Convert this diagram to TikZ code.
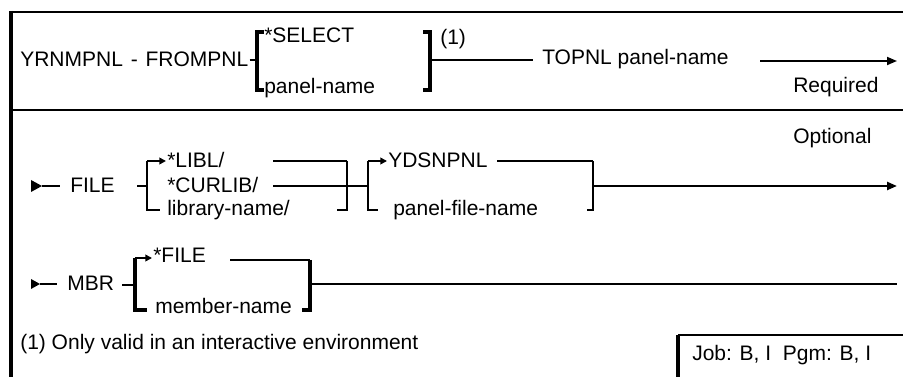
\documentclass[tikz,border=0pt]{standalone}
\usepackage{fontspec}
\setmainfont{Liberation Sans}
\usetikzlibrary{arrows.meta}
\begin{document}
\begin{tikzpicture}[x=0.75pt,y=-0.75pt,
  txt/.style={inner sep=0pt, anchor=base west, font=\fontsize{15.75}{18}\selectfont},
  ln/.style={line width=1.3pt},
  mainln/.style={line width=1.7pt},
  brk/.style={line width=3pt},
  brkb/.style={line width=2pt},
  frame/.style={line width=1.5pt},
  border/.style={line width=3pt},
  tip/.style={-{Triangle[length=7.5pt,width=6pt]}},
  stip/.style={-{Triangle[length=5pt,width=5pt]}},
  starttri/.style={fill=black}
]
\useasboundingbox (0,0) rectangle (903,377);

% frame
\coordinate (ftl) at (11,11);
\coordinate (fbl) at (11,377);
\coordinate (h1l) at (11,12);
\coordinate (h1r) at (903,12);
\coordinate (h2l) at (11,110);
\coordinate (h2r) at (903,110);
\draw[border] (ftl) -- (fbl);
\draw[frame] (h1l) -- (h1r);
\draw[frame] (h2l) -- (h2r);

% ---------------- row 1
\node[txt] (cmd) at (20,67) {YRNMPNL\hspace{1.5pt} - \hspace{1.5pt}FROMPNL};
\node[txt] (sel) at (264,43) {*SELECT};
\node[txt] (pn) at (264,94) {panel-name};
\node[txt] (fn1) at (440,45) {(1)};
\node[txt] (topnl) at (542,65) {TOPNL panel-name};
\node[txt] (req) at (793,93) {Required};

\coordinate (b1tl) at (264,32);
\coordinate (b1t) at (257,32);
\coordinate (b1m) at (257,60);
\coordinate (b1b) at (257,90);
\coordinate (b1bl) at (264,90);
\coordinate (b2tr) at (423,32);
\coordinate (b2t) at (430,32);
\coordinate (b2m) at (430,60);
\coordinate (b2b) at (430,90);
\coordinate (b2br) at (423,90);
\coordinate (r1a) at (533,60);
\coordinate (r1b) at (760,61);
\coordinate (r1e) at (897,61);

\draw[ln] ([xshift=0.75pt]cmd.east |- b1m) -- (b1m);
\draw[brk] (b1tl) -- (b1t) -- (b1b) -- (b1bl);
\draw[brk] (b2tr) -- (b2t) -- (b2b) -- (b2br);
\draw[ln] (b2m) -- (r1a);
\draw[ln,tip] (r1b) -- (r1e);

% ---------------- row 2
\node[txt] (opt) at (793,144) {Optional};
\fill[starttri] (31,180) -- (42,186) -- (31,192) -- cycle;
\coordinate (s2a) at (42,186);
\coordinate (s2b) at (60,186);
\draw[mainln] (s2a) -- (s2b);
\node[txt] (file) at (70,193) {FILE};

\coordinate (c1in) at (137,186);
\coordinate (c1t) at (147,161);
\coordinate (c1m) at (147,186);
\coordinate (c1b) at (147,210);
\coordinate (c1bh) at (160,210);
\coordinate (c1th) at (166,161);
\draw[mainln] (c1in) -- (c1m);
\draw[brkb] (c1t) -- (c1b) -- (c1bh);
\draw[brkb,stip] (c1t) -- (c1th);

\node[txt] (libl) at (167,168) {*LIBL/};
\node[txt] (curlib) at (167,193) {*CURLIB/};
\node[txt] (libn) at (167,216) {library-name/};

\coordinate (l1a) at (273,161);
\coordinate (c2t) at (347,161);
\coordinate (c2b) at (347,210);
\coordinate (c2bh) at (337,210);
\coordinate (l2a) at (273,186);
\coordinate (c3m) at (368,186);
\draw[ln] (l1a) -- (c2t);
\draw[brkb] (c2t) -- (c2b) -- (c2bh);
\draw[mainln] (l2a) -- (c3m);

\coordinate (c3t) at (368,161);
\coordinate (c3b) at (368,210);
\coordinate (c3bh) at (378,210);
\coordinate (c3th) at (387,161);
\draw[brkb] (c3t) -- (c3b) -- (c3bh);
\draw[brkb,stip] (c3t) -- (c3th);

\node[txt] (yds) at (388,168) {YDSNPNL};
\node[txt] (pfn) at (393,216) {panel-file-name};

\coordinate (l3a) at (497,161);
\coordinate (c4t) at (593,161);
\coordinate (c4m) at (593,186);
\coordinate (c4b) at (593,210);
\coordinate (c4bh) at (587,210);
\coordinate (r2e) at (897,186);
\draw[ln] (l3a) -- (c4t);
\draw[brkb] (c4t) -- (c4b) -- (c4bh);
\draw[mainln,tip] (c4m) -- (r2e);

% ---------------- row 3
\fill[starttri] (31,279) -- (40,284) -- (31,289) -- cycle;
\coordinate (s3a) at (40,284);
\coordinate (s3b) at (57,284);
\draw[ln] (s3a) -- (s3b);
\node[txt] (mbr) at (67,291) {MBR};

\coordinate (d1in) at (122,285);
\coordinate (d1m) at (135,285);
\coordinate (d1t) at (135,258);
\coordinate (d1b) at (135,310);
\coordinate (d1bh) at (147,310);
\coordinate (d1th) at (152,258);
\draw[ln] (d1in) -- (d1m);
\draw[brk] (d1t) -- (d1b) -- (d1bh);
\draw[ln,stip] (d1t) -- (d1th);

\node[txt] (starfile) at (153,263) {*FILE};
\node[txt] (mem) at (155,314) {member-name};

\coordinate (m1a) at (230,260);
\coordinate (d2t) at (310,260);
\coordinate (d2m) at (310,284);
\coordinate (d2b) at (310,310);
\coordinate (d2bh) at (302,310);
\coordinate (r3e) at (897,284);
\draw[ln] (m1a) -- (d2t);
\draw[brk] (d2t) -- (d2b) -- (d2bh);
\draw[ln] (d2m) -- (r3e);

% ---------------- footer
\node[txt] (note) at (20,350) {(1) Only valid in an interactive environment};
\coordinate (jr) at (903,335);
\coordinate (jc) at (678,335);
\coordinate (jb) at (678,377);
\draw[frame] (jr) -- (jc);
\draw[border] (jc) -- (jb);
\node[txt] (job) at (692,361) {Job: B, I\ \ Pgm: B, I};
\end{tikzpicture}
\end{document}
